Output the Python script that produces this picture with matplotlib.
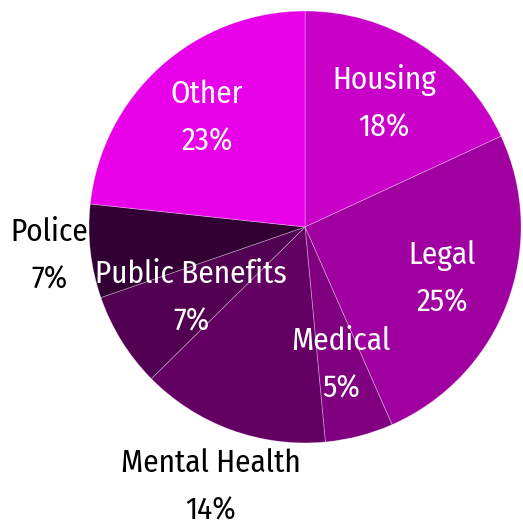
import matplotlib
matplotlib.use("Agg")
import matplotlib.pyplot as plt
import numpy as np

categories = ["Housing", "Legal", "Medical", "Mental Health", "Public Benefits", "Police", "Other"]
values = [18.1, 25.3, 5.1, 14.1, 7.1, 7.0, 23.3]

colors = ["#c800c8", "#a000a0", "#800080", "#640064", "#520052", "#320032", "#e800e8"]
label_radius = [0.68, 0.68, 0.66, 1.28, 0.62, 1.19, 0.68]
label_color = ["white", "white", "white", "black", "white", "black", "white"]

fam = ["Fira Sans Condensed", "Asap Condensed", "DejaVu Sans"]

fig = plt.figure(figsize=(5.23, 5.25), dpi=100)
ax = fig.add_axes([0, 0, 1, 1])
wedges, _ = ax.pie(values, colors=colors, startangle=90, counterclock=False,
                   wedgeprops=dict(edgecolor=(1, 1, 1, 0.35), linewidth=0.6))
ax.set_xlim(-1.412, 1.009)
ax.set_ylim(-1.380, 1.051)
ax.set_aspect("auto")
ax.axis("off")

total = sum(values)
for w, name, v, r, c in zip(wedges, categories, values, label_radius, label_color):
    ang = np.deg2rad((w.theta1 + w.theta2) / 2)
    x, y = r * np.cos(ang), r * np.sin(ang)
    ax.text(x, y, f"{name}\n{v / total * 100:.0f}%", ha="center", va="center",
            color=c, fontsize=22.5, family=fam, fontweight="normal", linespacing=1.72)

fig.savefig("out.png", dpi=100)
